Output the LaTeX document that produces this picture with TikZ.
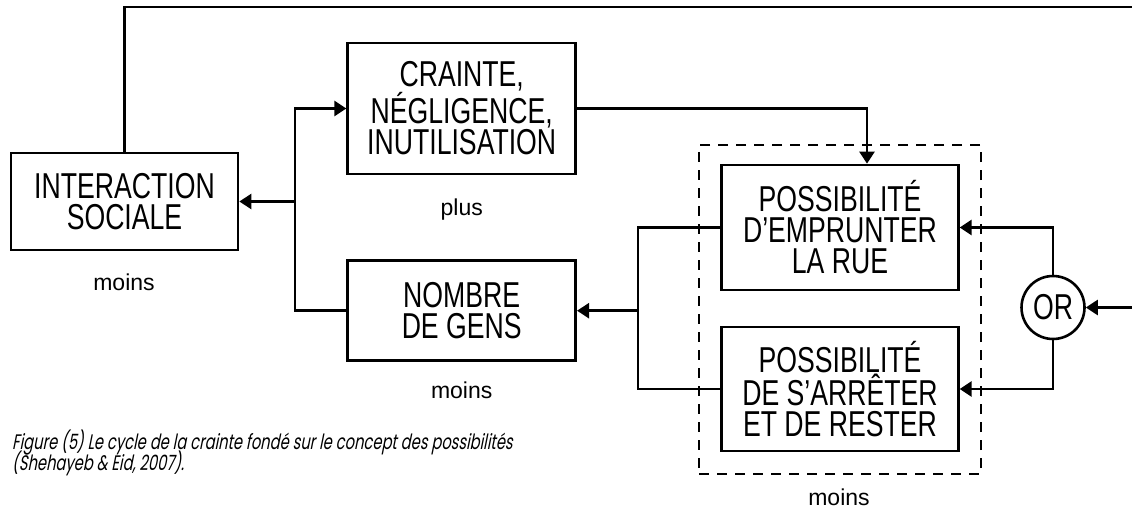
\documentclass[tikz,border=0pt]{standalone}
\usepackage{fontspec}
\setmainfont{Liberation Sans}
\newfontfamily\boxfont[FakeStretch=0.74]{Liberation Sans}
\newfontfamily\capfont[FakeSlant=0.2,FakeStretch=0.70]{Poppins}
\usetikzlibrary{arrows.meta}
\begin{document}
\begin{tikzpicture}[x=1pt,y=-1pt,
  boxn/.style={draw, line width=2.7pt, inner sep=0pt, align=center,
    font=\boxfont\fontsize{36}{31}\selectfont},
  conn/.style={line width=2.6pt},
  arr/.style={conn, -{Triangle[length=12pt,width=15pt]}},
  lab/.style={font=\fontsize{23}{24}\selectfont, inner sep=0pt, anchor=base},
  capt/.style={font=\capfont\fontsize{21}{22}\selectfont, inner sep=0pt, anchor=base west},
]
\useasboundingbox (0,0) rectangle (1132,508);

\node[boxn, minimum width=227pt, minimum height=97pt] (inter) at (124.5,201.5) {INTERACTION\\SOCIALE};
\node[boxn, minimum width=228pt, minimum height=131pt] (crainte) at (461.7,108.5) {CRAINTE,\\NÉGLIGENCE,\\INUTILISATION};
\node[boxn, minimum width=228pt, minimum height=100pt] (nombre) at (461.7,310.7) {NOMBRE\\DE GENS};
\node[draw, dashed, dash pattern=on 10pt off 8pt, line width=2.5pt, minimum width=282pt, minimum height=329pt, inner sep=0pt] (grp) at (840,309.5) {};
\node[boxn, minimum width=236.6pt, minimum height=125pt] (p1) at (840,227.5) {POSSIBILITÉ\\D’EMPRUNTER\\LA RUE};
\node[boxn, minimum width=236.6pt, minimum height=124pt] (p2) at (840,389) {POSSIBILITÉ\\DE S’ARRÊTER\\ET DE RESTER};
\node[draw, circle, line width=2.6pt, minimum size=63pt, inner sep=0pt, font=\boxfont\fontsize{36}{36}\selectfont] (orn) at (1053,307.5) {OR};

\node[lab] (l1) at (124,290) {moins};
\node[lab] (l2) at (461.7,215) {plus};
\node[lab] (l3) at (461.7,398) {moins};
\node[lab] (l4) at (839,505) {moins};

\node[capt] (cap1) at (12,449) {Figure (5) Le cycle de la crainte fondé sur le concept des possibilités};
\node[capt] (cap2) at (12,470) {(Shehayeb \& Eid, 2007).};

\coordinate (tr) at (1132,7);
\coordinate (lx) at (295,0);
\coordinate (mx) at (638,0);
\coordinate (cd) at (867,0);
\coordinate (rin) at (1132,307.5);

\draw[conn] (inter.north) |- (tr);
\draw[arr] (nombre.west) -- (nombre.west -| lx) -- (lx |- crainte.west) -- (crainte.west);
\draw[arr] (lx |- inter.east) -- (inter.east);
\draw[arr] (crainte.east) -| (cd |- p1.north);
\draw[conn] (p1.west) -- (p1.west -| mx) -- (mx |- p2.west) -- (p2.west);
\draw[arr] (mx |- nombre.east) -- (nombre.east);
\draw[arr] (orn.north) |- (p1.east);
\draw[arr] (orn.south) |- (p2.east);
\draw[arr] (rin) -- (orn.east);
\end{tikzpicture}
\end{document}
